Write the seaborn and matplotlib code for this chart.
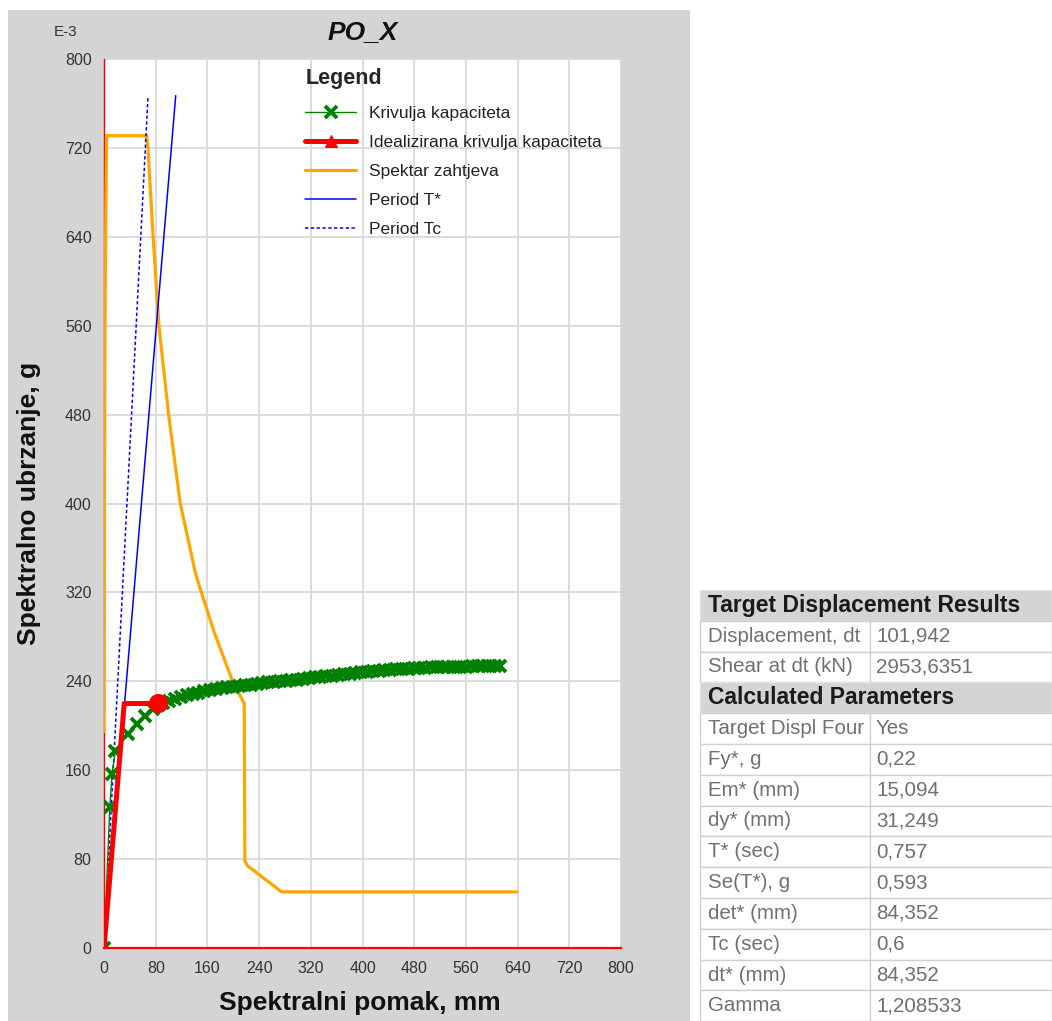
import matplotlib
matplotlib.use("Agg")
import matplotlib.pyplot as plt
from matplotlib.patches import Rectangle
import pandas as pd
import seaborn as sns

# ---------------- data ----------------
cap_x = [0, 9, 12.5, 17.5, 37, 51, 63, 76,
         84, 92,
         101, 110, 119, 128, 137, 146, 155, 164, 173, 182,
         191, 200, 209, 218, 227, 236, 245, 254, 263, 272,
         281, 290, 299, 308, 317, 326, 335, 344, 353, 362,
         371, 380, 389, 398, 407, 416, 425, 434, 443, 452,
         461, 470, 479, 488, 497, 506, 515, 524, 533, 542,
         551, 560, 569, 578, 587, 596, 605,
         612]
cap_y = [0, 127, 157, 177, 193, 202, 209, 215,
         218.5, 220.5,
         222.5, 224.5, 226, 227.5, 228.5, 229.5, 231, 232, 233, 234,
         234.5, 235, 236, 236.5, 237, 238, 238.5, 239, 239.5, 240,
         240.5, 241, 241.5, 242, 243, 243.5, 244, 244.5, 245, 245.5,
         246.5, 247, 247.5, 248, 248.5, 249, 249.5, 250, 250.5, 251,
         251, 251.5, 252, 252, 252, 252.5, 252.5, 253, 253, 253,
         253, 253, 253.5, 253.5, 253.5, 253.5, 253.5,
         253.5]

ideal_x = [0, 31.249, 84.352]
ideal_y = [0, 220, 220]

target_x = [84.352]
target_y = [220]

spec_x = [0, 0.5, 1.5, 2.5, 4, 66, 68, 76, 85, 100, 118, 142, 170, 199, 217,
          218, 222, 275, 639]
spec_y = [195, 373, 553, 640, 731, 731, 720, 640, 560, 480, 400, 336, 285, 240, 220,
          78, 74, 50.5, 50.5]

tstar_x = [0, 111]
tstar_y = [0, 767]
tc_x = [0, 68]
tc_y = [0, 765]

series_labels = ["Krivulja kapaciteta", "Idealizirana krivulja kapaciteta",
                 "Spektar zahtjeva", "Period T*", "Period Tc"]

axis_ticks = list(range(0, 801, 80))

table_headers = ["Target Displacement Results", "Calculated Parameters"]
table_labels_1 = ["Displacement, dt", "Shear at dt (kN)"]
table_values_1 = ["101,942", "2953,6351"]
table_labels_2 = ["Target Displ Four", "Fy*, g", "Em* (mm)", "dy* (mm)", "T* (sec)",
                  "Se(T*), g", "det* (mm)", "Tc (sec)", "dt* (mm)", "Gamma"]
table_values_2 = ["Yes", "0,22", "15,094", "31,249", "0,757", "0,593", "84,352",
                  "0,6", "84,352", "1,208533"]

# ---------------- style ----------------
sns.set_style("white")
plt.rcParams["font.family"] = ["Liberation Sans", "DejaVu Sans"]

W, H = 1052, 1021
def fx(px):
    return px / W
def fy(py):
    return 1 - py / H

fig = plt.figure(figsize=(W / 100, H / 100), dpi=100)
fig.patch.set_facecolor("white")
fig.add_artist(Rectangle((fx(8), 0), fx(690) - fx(8), fy(10), transform=fig.transFigure,
                         facecolor="#d4d4d4", edgecolor="none", zorder=-5))

ax = fig.add_axes([fx(104), fy(948), fx(621) - fx(104), fy(59) - fy(948)])
ax.set_facecolor("white")

df_cap = pd.DataFrame({"x": cap_x, "y": cap_y})
sns.lineplot(data=df_cap, x="x", y="y", ax=ax, sort=False, estimator=None,
             color="#008000", lw=1.0, marker="x", markersize=8,
             markeredgewidth=2.8, markeredgecolor="#008000",
             label=series_labels[0], zorder=5)

sns.lineplot(x=ideal_x, y=ideal_y, ax=ax, sort=False, estimator=None,
             color="#ff0000", lw=3.6, marker="^", markersize=9, markevery=[0],
             markeredgecolor="#ff0000", label=series_labels[1], zorder=6)

sns.lineplot(x=spec_x, y=spec_y, ax=ax, sort=False, estimator=None,
             color="#ffa500", lw=2.3, label=series_labels[2], zorder=4)

sns.lineplot(x=tstar_x, y=tstar_y, ax=ax, sort=False, estimator=None,
             color="#0000ff", lw=1.1, label=series_labels[3], zorder=4.5)

sns.lineplot(x=tc_x, y=tc_y, ax=ax, sort=False, estimator=None,
             color="#0000ff", lw=1.1, linestyle=(0, (2.2, 1.6)),
             label=series_labels[4], zorder=4.5)

sns.scatterplot(x=target_x, y=target_y, ax=ax, color="#ff0000", s=190,
                edgecolor="none", legend=False, zorder=7)

ax.set_xlim(0, 800)
ax.set_ylim(0, 800)
ax.set_xticks(axis_ticks)
ax.set_yticks(axis_ticks)
ax.grid(True, color="#d9d9d9", lw=1.3)
ax.set_axisbelow(True)
ax.tick_params(axis="both", direction="out", length=6, width=1.6, color="#222222",
               labelcolor="#333333", labelsize=11.5, pad=3)
for s in ["top", "right"]:
    ax.spines[s].set_visible(False)
ax.spines["left"].set_color("#ff0000")
ax.spines["left"].set_linewidth(1.0)
ax.spines["bottom"].set_color("#ff0000")
ax.spines["bottom"].set_linewidth(1.6)

ax.set_xlabel("Spektralni pomak, mm", fontsize=19, fontweight="bold", color="#111111")
ax.set_ylabel("Spektralno ubrzanje, g", fontsize=19, fontweight="bold", color="#111111")
ax.xaxis.label.set_va("center")
ax.yaxis.label.set_va("center")
ax.xaxis.set_label_coords((360 - 104) / 517, (948 - 1003) / 889)
ax.yaxis.set_label_coords((29 - 104) / 517, (948 - 503) / 889)

fig.text(fx(363), fy(32), "PO_X", fontsize=19, fontweight="bold", fontstyle="italic",
         ha="center", va="center", color="#111111")
fig.text(fx(66), fy(32), "E-3", fontsize=11, ha="center", va="center", color="#333333")

leg = ax.legend(title="Legend", loc="upper left",
                bbox_to_anchor=((302 - 104) / 517, (948 - 65) / 889),
                frameon=False, fontsize=12.5, alignment="left",
                title_fontproperties={"weight": "bold", "size": 15.5},
                handlelength=2.9, labelspacing=0.8, handletextpad=0.75,
                borderaxespad=0, borderpad=0.2)
leg._legend_box.sep = 12.0
for t in leg.get_texts():
    t.set_color("#222222")

# ---------------- table ----------------
row_top = 590
row_h = 30.8
x_left, x_mid, x_right = 700, 870, 1052
rows = [("h", table_headers[0])]
rows += [("d", (l, v)) for l, v in zip(table_labels_1, table_values_1)]
rows += [("h", table_headers[1])]
rows += [("d", (l, v)) for l, v in zip(table_labels_2, table_values_2)]

for i, (kind, content) in enumerate(rows):
    top = row_top + i * row_h
    bot = top + row_h
    yc = top + row_h / 2
    if kind == "h":
        fig.add_artist(Rectangle((fx(x_left), fy(bot)), fx(x_right) - fx(x_left), fy(top) - fy(bot),
                                 transform=fig.transFigure, facecolor="#d4d4d4",
                                 edgecolor="#e6e6e6", lw=1))
        fig.text(fx(708), fy(yc), content, fontsize=16.5, fontweight="bold",
                 ha="left", va="center", color="#1a1a1a")
    else:
        for a, b in [(x_left, x_mid), (x_mid, x_right)]:
            fig.add_artist(Rectangle((fx(a), fy(bot)), fx(b) - fx(a), fy(top) - fy(bot),
                                     transform=fig.transFigure, facecolor="white",
                                     edgecolor="#d0d0d0", lw=1))
        fig.text(fx(708), fy(yc), content[0], fontsize=14.8, ha="left", va="center",
                 color="#707070")
        fig.text(fx(876), fy(yc), content[1], fontsize=14.8, ha="left", va="center",
                 color="#707070")

fig.savefig("out.png", dpi=100)
